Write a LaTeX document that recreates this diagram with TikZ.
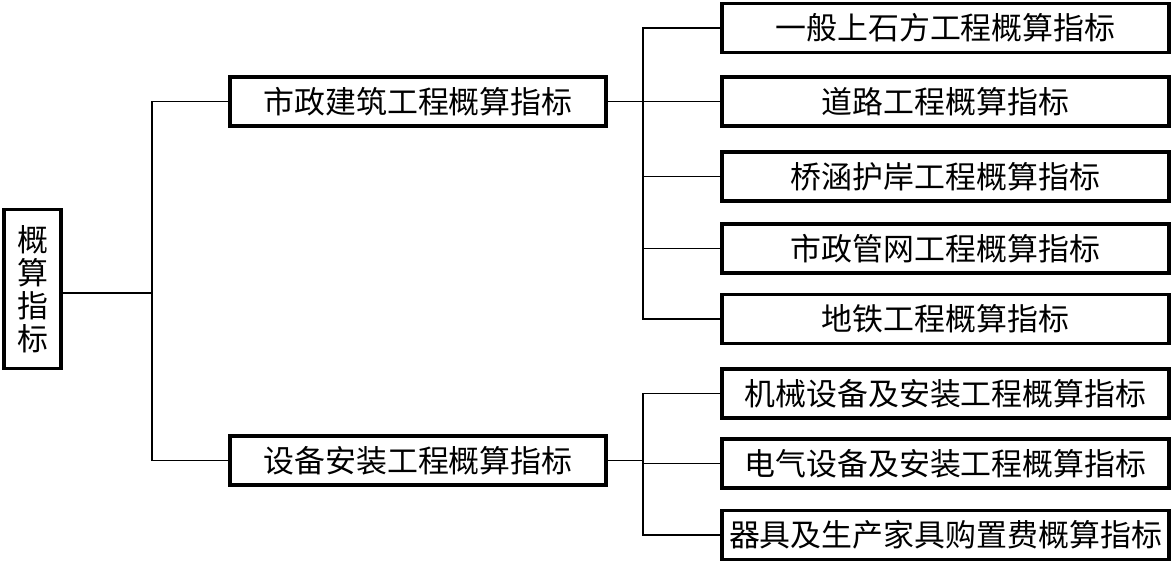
\documentclass[tikz,border=0pt]{standalone}
\usepackage{fontspec}
\setmainfont{Noto Sans CJK SC}
\usepackage{tikz}
\usetikzlibrary{positioning}

\tikzset{
	box/.style={draw, line width=2.2pt, inner sep=0pt, font=\fontsize{17.6}{18.8}\selectfont},
	leafbox/.style={box, minimum width=8.94cm, minimum height=0.98cm},
	midbox/.style={box, minimum width=7.52cm, minimum height=0.98cm},
	link/.style={line width=1.1pt}
}

\begin{document}
\begin{tikzpicture}[x=0.02cm, y=-0.02cm] % the budget index tree, drawn at pixel coordinates
\useasboundingbox (0,0) rectangle (1173,564);

\node[box, minimum width=1.14cm, minimum height=3.18cm, align=center] (root) at (32.5,289) {概\\算\\指\\标};

\node[midbox] (shizheng) at (418,101.5) {市政建筑工程概算指标};
\node[midbox] (shebei) at (418,460.5) {设备安装工程概算指标};

\node[leafbox] (tushi) at (945.5,28) {一般上石方工程概算指标};
\node[leafbox] (daolu) at (945.5,101.5) {道路工程概算指标};
\node[leafbox] (qiaohan) at (945.5,176.5) {桥涵护岸工程概算指标};
\node[leafbox] (guanwang) at (945.5,248.5) {市政管网工程概算指标};
\node[leafbox] (ditie) at (945.5,319) {地铁工程概算指标};

\node[leafbox] (jixie) at (945.5,393.5) {机械设备及安装工程概算指标};
\node[leafbox] (dianqi) at (945.5,463.5) {电气设备及安装工程概算指标};
\node[leafbox] (qiju) at (945.5,535) {器具及生产家具购置费概算指标};

% junctions
\coordinate (j0) at (152,293);
\coordinate (j1) at (643,101.5);
\coordinate (j2) at (643,460.5);

\draw[link] (root.east |- j0) -- (j0);
\draw[link] (j0) |- (shizheng.west);
\draw[link] (j0) |- (shebei.west);

\draw[link] (shizheng) -- (j1);
\foreach \n in {tushi,daolu,qiaohan,guanwang,ditie}
	\draw[link] (j1) |- (\n.west);

\draw[link] (shebei) -- (j2);
\foreach \n in {jixie,dianqi,qiju}
	\draw[link] (j2) |- (\n.west);

\end{tikzpicture}
\end{document}
